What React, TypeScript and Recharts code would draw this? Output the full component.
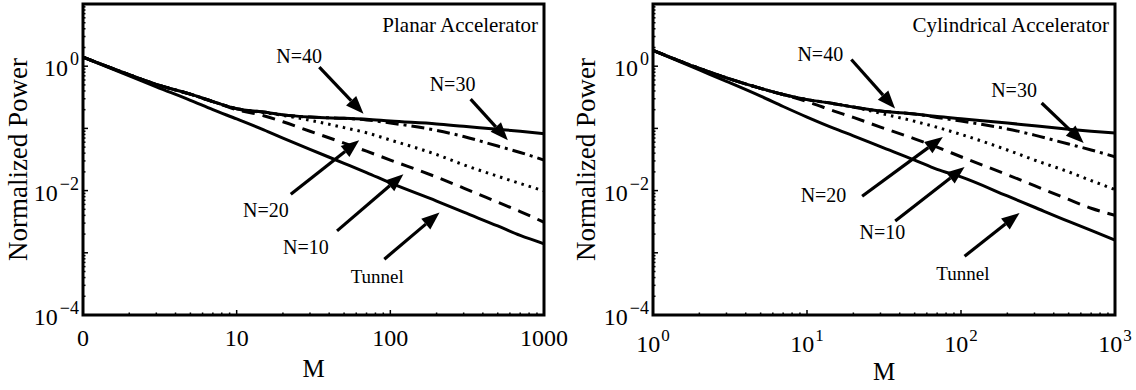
import React from "react";
import { LineChart, Line, XAxis, YAxis, ReferenceArea, ReferenceLine, ReferenceDot } from "recharts";

const FONT = "'Liberation Serif', 'Times New Roman', serif";

// M values shared by both panels
const mValues = [1, 2, 3, 5, 7, 10, 15, 20, 30, 50, 70, 100, 200, 300, 500, 700, 1000];

// planar accelerator (left panel)
const planarTunnel = [1.4, 0.7, 0.465, 0.283, 0.2, 0.142, 0.095, 0.07, 0.046, 0.0275, 0.0195, 0.0133, 0.0068, 0.0045, 0.0027, 0.0019, 0.0014];
const planarN10 = [1.4, 0.73, 0.51, 0.355, 0.27, 0.2, 0.16, 0.128, 0.09, 0.058, 0.043, 0.031, 0.0165, 0.011, 0.0065, 0.0046, 0.0031];
const planarN20 = [1.4, 0.73, 0.51, 0.355, 0.27, 0.207, 0.18, 0.162, 0.135, 0.103, 0.085, 0.065, 0.038, 0.026, 0.017, 0.013, 0.0099];
const planarN30 = [1.4, 0.73, 0.51, 0.355, 0.27, 0.207, 0.183, 0.165, 0.152, 0.145, 0.137, 0.122, 0.093, 0.074, 0.052, 0.041, 0.031];
const planarN40 = [1.4, 0.73, 0.51, 0.355, 0.27, 0.207, 0.183, 0.165, 0.152, 0.145, 0.14, 0.131, 0.118, 0.108, 0.097, 0.09, 0.082];

// cylindrical accelerator (right panel)
const cylTunnel = [1.8, 0.87, 0.57, 0.33, 0.225, 0.152, 0.1, 0.076, 0.051, 0.031, 0.022, 0.0166, 0.0082, 0.0054, 0.0032, 0.0023, 0.0016];
const cylN10 = [1.8, 0.92, 0.65, 0.44, 0.35, 0.27, 0.19, 0.15, 0.105, 0.068, 0.05, 0.035, 0.018, 0.012, 0.0072, 0.0052, 0.004];
const cylN20 = [1.8, 0.92, 0.65, 0.44, 0.35, 0.29, 0.25, 0.22, 0.175, 0.13, 0.104, 0.08, 0.045, 0.031, 0.02, 0.0145, 0.0104];
const cylN30 = [1.8, 0.92, 0.65, 0.44, 0.35, 0.29, 0.25, 0.22, 0.19, 0.17, 0.15, 0.131, 0.098, 0.078, 0.056, 0.045, 0.035];
const cylN40 = [1.8, 0.92, 0.65, 0.44, 0.35, 0.29, 0.25, 0.22, 0.19, 0.17, 0.155, 0.143, 0.122, 0.11, 0.097, 0.09, 0.084];

// ticks
const xTicks = [1, 2, 3, 4, 5, 6, 7, 8, 9, 10, 20, 30, 40, 50, 60, 70, 80, 90, 100, 200, 300, 400, 500, 600, 700, 800, 900, 1000];
const yTicks = [
  0.0001, 0.0002, 0.0003, 0.0004, 0.0005, 0.0006, 0.0007, 0.0008, 0.0009,
  0.001, 0.002, 0.003, 0.004, 0.005, 0.006, 0.007, 0.008, 0.009,
  0.01, 0.02, 0.03, 0.04, 0.05, 0.06, 0.07, 0.08, 0.09,
  0.1, 0.2, 0.3, 0.4, 0.5, 0.6, 0.7, 0.8, 0.9,
  1, 2, 3, 4, 5, 6, 7, 8, 9, 10,
];
const yLabelled = [0.0001, 0.01, 1];
const yExponents = ["\u22124", "\u22122", "0"];
const xLabelled = [1, 10, 100, 1000];
const planarXLabels = ["0", "10", "100", "1000"];
const cylXExponents = ["0", "1", "2", "3"];

// annotations: label position and arrow (tail -> head) in data coordinates
const planarNotes = [
  { text: "N=40", tx: 25.5, ty: 1.48, x1: 34.5, y1: 0.964, x2: 66.9, y2: 0.172, size: 20 },
  { text: "N=30", tx: 254, ty: 0.526, x1: 333, y1: 0.296, x2: 582, y2: 0.0644, size: 20 },
  { text: "N=20", tx: 15.5, ty: 0.0048, x1: 22.5, y1: 0.0087, x2: 62.7, y2: 0.0644, size: 20 },
  { text: "N=10", tx: 28.2, ty: 0.00123, x1: 45, y1: 0.00225, x2: 121.6, y2: 0.0184, size: 20 },
  { text: "Tunnel", tx: 82.2, ty: 0.000426, x1: 91.4, y1: 0.00079, x2: 209, y2: 0.00444, size: 19 },
];
const cylNotes = [
  { text: "N=40", tx: 12.2, ty: 1.59, x1: 19.4, y1: 1.28, x2: 37.3, y2: 0.208, size: 20 },
  { text: "N=30", tx: 221, ty: 0.41, x1: 334, y1: 0.256, x2: 626, y2: 0.0582, size: 20 },
  { text: "N=20", tx: 12.8, ty: 0.0084, x1: 22.8, y1: 0.0081, x2: 76.2, y2: 0.0728, size: 20 },
  { text: "N=10", tx: 30.9, ty: 0.00216, x1: 37.4, y1: 0.00325, x2: 105.5, y2: 0.024, size: 20 },
  { text: "Tunnel", tx: 102.8, ty: 0.000463, x1: 105.5, y1: 0.00088, x2: 240, y2: 0.00437, size: 19 },
];

const isDecade = (v: number) => Math.abs(Math.log10(v) - Math.round(Math.log10(v))) < 1e-6;

function Arrow(props: any) {
  const { x1, y1, x2, y2 } = props;
  if ([x1, y1, x2, y2].some((v) => v == null || isNaN(v))) return null;
  const ang = Math.atan2(y2 - y1, x2 - x1);
  const len = 18;
  const half = 7;
  const bx = x2 - len * Math.cos(ang);
  const by = y2 - len * Math.sin(ang);
  const px = -Math.sin(ang) * half;
  const py = Math.cos(ang) * half;
  return (
    <g>
      <line x1={x1} y1={y1} x2={bx} y2={by} stroke="#000" strokeWidth={3.2} />
      <polygon points={`${x2},${y2} ${bx + px},${by + py} ${bx - px},${by - py}`} fill="#000" />
    </g>
  );
}

function makeXTick(side: "bottom" | "top", variant: "planar" | "cyl") {
  return (props: any) => {
    const { x, y, payload } = props;
    const v = payload.value;
    const major = isDecade(v);
    const len = major ? 5 : 2.5;
    const dir = side === "bottom" ? -1 : 1;
    const idx = xLabelled.indexOf(v);
    return (
      <g>
        <line x1={x} y1={y} x2={x} y2={y + dir * len} stroke="#000" strokeWidth={1.5} />
        {side === "bottom" && idx >= 0 && (
          variant === "planar" ? (
            <text x={x} y={y + 31} textAnchor="middle" fontFamily={FONT} fontSize={24} fill="#000">
              {planarXLabels[idx]}
            </text>
          ) : (
            <text x={x} y={y + 37} textAnchor="middle" fontFamily={FONT} fontSize={24} fill="#000">
              10<tspan dx={1} dy={-11} fontSize={17}>{cylXExponents[idx]}</tspan>
            </text>
          )
        )}
      </g>
    );
  };
}

function makeYTick(side: "left" | "right") {
  return (props: any) => {
    const { x, y, payload } = props;
    const v = payload.value;
    const major = isDecade(v);
    const len = major ? 5 : 2.5;
    const dir = side === "left" ? 1 : -1;
    const idx = yLabelled.findIndex((t) => Math.abs(t - v) / t < 1e-6);
    return (
      <g>
        <line x1={x} y1={y} x2={x + dir * len} y2={y} stroke="#000" strokeWidth={1.5} />
        {side === "left" && idx >= 0 && (
          <text x={x - 4} y={y + 10} textAnchor="end" fontFamily={FONT} fontSize={24} fill="#000">
            10<tspan dx={2} dy={-11} fontSize={18}>{yExponents[idx]}</tspan>
          </text>
        )}
      </g>
    );
  };
}

type Note = { text: string; tx: number; ty: number; x1: number; y1: number; x2: number; y2: number; size: number };

function Panel({
  title, tunnel, n10, n20, n30, n40, notes, variant, yAxisWidth, rightMargin, mOffset,
}: {
  title: string; tunnel: number[]; n10: number[]; n20: number[]; n30: number[]; n40: number[];
  notes: Note[]; variant: "planar" | "cyl"; yAxisWidth: number; rightMargin: number; mOffset: number;
}) {
  const data = mValues.map((m, i) => ({ m, tunnel: tunnel[i], n10: n10[i], n20: n20[i], n30: n30[i], n40: n40[i] }));
  const common = { isAnimationActive: false, dot: false, activeDot: false, stroke: "#000", type: "monotone" as const };
  return (
    <LineChart width={568} height={390} data={data} margin={{ top: 4, right: rightMargin, bottom: 0, left: 0 }}>
      <XAxis
        xAxisId={0} dataKey="m" type="number" scale="log" domain={[1, 1000]} allowDataOverflow
        ticks={xTicks} tickSize={0} tickMargin={0} axisLine={false} height={75} interval={0}
        tick={makeXTick("bottom", variant)}
        label={{
          content: (p: any) => {
            const vb = p.viewBox;
            return (
              <text x={vb.x + vb.width / 2} y={vb.y + mOffset} textAnchor="middle" fontFamily={FONT} fontSize={25} fill="#000">M</text>
            );
          },
        }}
      />
      <XAxis
        xAxisId="top" orientation="top" dataKey="m" type="number" scale="log" domain={[1, 1000]} allowDataOverflow
        ticks={xTicks} tickSize={0} tickMargin={0} axisLine={false} height={0} interval={0}
        tick={makeXTick("top", variant)}
      />
      <YAxis
        yAxisId={0} type="number" scale="log" domain={[0.0001, 10]} allowDataOverflow
        ticks={yTicks} tickSize={0} tickMargin={0} axisLine={false} width={yAxisWidth} interval={0}
        tick={makeYTick("left")}
        label={{
          content: (p: any) => {
            const vb = p.viewBox;
            const cx = 18;
            const cy = vb.y + vb.height / 2;
            return (
              <text x={cx} y={cy} transform={`rotate(-90 ${cx} ${cy})`} textAnchor="middle" dominantBaseline="central" fontFamily={FONT} fontSize={27} fill="#000">
                Normalized Power
              </text>
            );
          },
        }}
      />
      <YAxis
        yAxisId="right" orientation="right" type="number" scale="log" domain={[0.0001, 10]} allowDataOverflow
        ticks={yTicks} tickSize={0} tickMargin={0} axisLine={false} width={0} interval={0}
        tick={makeYTick("right")}
      />
      <Line {...common} dataKey="tunnel" strokeWidth={3} />
      <Line {...common} dataKey="n10" strokeWidth={3} strokeDasharray="13 8" />
      <Line {...common} dataKey="n20" strokeWidth={3} strokeDasharray="2.5 5" />
      <Line {...common} dataKey="n30" strokeWidth={3} strokeDasharray="13 5 3 5" />
      <Line {...common} dataKey="n40" strokeWidth={3} />
      <ReferenceArea x1={1} x2={1000} y1={0.0001} y2={10} fill="none" stroke="#000" strokeWidth={3} ifOverflow="visible" />
      {notes.map((n) => (
        <ReferenceLine
          key={n.text + "-arrow"}
          segment={[{ x: n.x1, y: n.y1 }, { x: n.x2, y: n.y2 }]}
          ifOverflow="visible"
          shape={(p: any) => <Arrow {...p} />}
        />
      ))}
      {notes.map((n) => (
        <ReferenceDot
          key={n.text + "-label"}
          x={n.tx} y={n.ty} r={0} ifOverflow="visible"
          shape={(p: any) => (
            <text x={p.cx} y={p.cy + n.size * 0.35} textAnchor="middle" fontFamily={FONT} fontSize={n.size} fill="#000">
              {n.text}
            </text>
          )}
        />
      ))}
      <ReferenceDot
        x={1000} y={10} r={0} ifOverflow="visible"
        shape={(p: any) => (
          <text x={p.cx - 6} y={p.cy + 28} textAnchor="end" fontFamily={FONT} fontSize={21} fill="#000">
            {title}
          </text>
        )}
      />
    </LineChart>
  );
}

export default function App() {
  return (
    <div style={{ position: "absolute", left: 0, top: 0, width: 1136, height: 390, background: "#fff", display: "flex" }}>
      <Panel
        title="Planar Accelerator" variant="planar" yAxisWidth={83} rightMargin={24} mOffset={62}
        tunnel={planarTunnel} n10={planarN10} n20={planarN20} n30={planarN30} n40={planarN40} notes={planarNotes}
      />
      <Panel
        title="Cylindrical Accelerator" variant="cyl" yAxisWidth={85} rightMargin={21} mOffset={65}
        tunnel={cylTunnel} n10={cylN10} n20={cylN20} n30={cylN30} n40={cylN40} notes={cylNotes}
      />
    </div>
  );
}
